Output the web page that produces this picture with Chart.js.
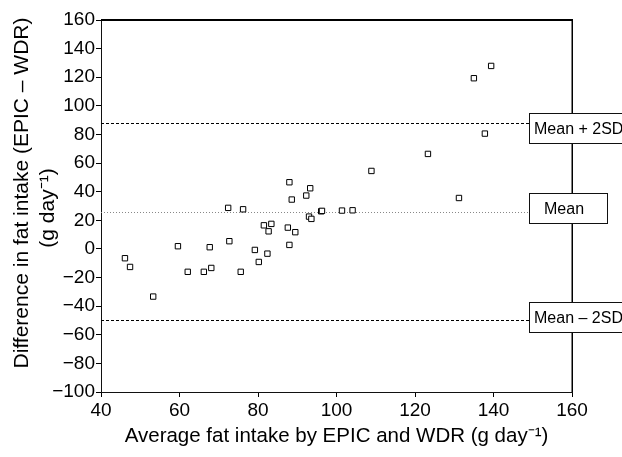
<!DOCTYPE html>
<html>
<head>
<meta charset="utf-8">
<script src="https://cdn.jsdelivr.net/npm/chart.js@4.4.1/dist/chart.umd.min.js"></script>
<style>
  html, body { margin: 0; padding: 0; background: #fff; }
</style>
</head>
<body>
<canvas id="chart" width="622" height="457"></canvas>
<script>
// average of the two methods (g/day) and their difference, EPIC - WDR
const avgIntake = [46.1, 47.4, 53.3, 59.6, 62.1, 66.2, 67.7, 68.1, 72.4, 72.7,
  75.6, 76.2, 79.2, 80.2, 81.5, 82.4, 82.7, 83.4, 87.6, 88.0,
  88.0, 88.6, 89.5, 92.3, 93.3, 93.0, 93.6, 96.1, 96.3, 101.4,
  104.1, 108.9, 123.3, 131.2, 135.0, 137.8, 139.4];
const diffIntake = [-6.5, -12.6, -33.3, 1.9, -16, -16, 1.2, -13.3, 28.7, 5.4,
  -16, 27.7, -0.7, -9.1, 16.5, -3.3, 12.3, 17.5, 14.9, 46.6,
  2.8, 34.5, 11.7, 37.3, 42.4, 22.6, 21, 26.3, 26.6, 26.8,
  27, 54.5, 66.4, 35.6, 119.3, 80.6, 127.9];

const xTicks = [40, 60, 80, 100, 120, 140, 160];
const yTicks = [-100, -80, -60, -40, -20, 0, 20, 40, 60, 80, 100, 120, 140, 160];

const refLabels = ["Mean + 2SD", "Mean", "Mean \u2013 2SD"];
const refValues = [88, 26, -50];

const xTitle = "Average fat intake by EPIC and WDR (g day\u207b\u00b9)";
const yTitle = ["Difference in fat intake (EPIC \u2013 WDR)", "(g day\u207b\u00b9)"];

// look of the reference lines and their label boxes
const refStyles = [
  { dash: [3, 2], color: "#000", boxTop: -10, boxW: 96, textDx: 5 },
  { dash: [1, 2], color: "#888", boxTop: -19, boxW: 78, textDx: 15 },
  { dash: [3, 2], color: "#000", boxTop: -18, boxW: 96, textDx: 5 }
];

const FONT = "'Liberation Sans', Arial, Helvetica, sans-serif";

const refPlugin = {
  id: "refPlugin",
  beforeDatasetsDraw(chart) {
    const { ctx, chartArea: a, scales: { y } } = chart;
    const boxLeft = a.right - 43;
    ctx.save();
    ctx.lineWidth = 1;
    refValues.forEach((v, i) => {
      const py = Math.round(y.getPixelForValue(v)) + 0.5;
      ctx.strokeStyle = refStyles[i].color;
      ctx.setLineDash(refStyles[i].dash);
      ctx.beginPath();
      ctx.moveTo(a.left, py);
      ctx.lineTo(boxLeft, py);
      ctx.stroke();
    });
    ctx.restore();
  },
  afterDraw(chart) {
    const { ctx, chartArea: a, scales: { y } } = chart;
    const boxLeft = a.right - 43;
    ctx.save();

    // top and right side of the frame
    ctx.fillStyle = "#000";
    ctx.fillRect(a.left, a.top - 1, a.right - a.left + 1, 2);
    ctx.fillRect(a.right - 0.5, a.top - 1, 1.5, a.bottom - a.top + 1);

    // label boxes sitting on the right edge of the frame
    ctx.lineWidth = 1;
    ctx.setLineDash([]);
    ctx.font = "16px " + FONT;
    ctx.textBaseline = "middle";
    ctx.textAlign = "left";
    refValues.forEach((v, i) => {
      const s = refStyles[i];
      const py = Math.round(y.getPixelForValue(v));
      const top = py + s.boxTop + 0.5;
      ctx.fillStyle = "#fff";
      ctx.fillRect(boxLeft + 0.5, top, s.boxW, 30);
      ctx.strokeStyle = "#111";
      ctx.strokeRect(boxLeft + 0.5, top, s.boxW, 30);
      ctx.fillStyle = "#000";
      ctx.fillText(refLabels[i], boxLeft + s.textDx, top + 16);
    });

    // y axis title, two lines
    ctx.font = "21px " + FONT;
    ctx.textAlign = "center";
    ctx.fillStyle = "#000";
    const mid = (a.top + a.bottom) / 2;
    ctx.translate(22, mid - 13);
    ctx.rotate(-Math.PI / 2);
    ctx.fillText(yTitle[0], 0, 0);
    ctx.fillText(yTitle[1], -15, 26);
    ctx.restore();
  }
};

new Chart(document.getElementById("chart"), {
  type: "scatter",
  data: {
    datasets: [{
      data: avgIntake.map((x, i) => ({ x: x, y: diffIntake[i] })),
      pointStyle: "rect",
      pointRadius: 3.8,
      borderWidth: 1,
      borderColor: "#000",
      backgroundColor: "#fff"
    }]
  },
  options: {
    responsive: false,
    animation: false,
    events: [],
    layout: { padding: { top: 20, right: 50, bottom: 0, left: 0 } },
    plugins: {
      legend: { display: false },
      tooltip: { enabled: false }
    },
    scales: {
      x: {
        type: "linear",
        min: 40,
        max: 160,
        afterBuildTicks: s => { s.ticks = xTicks.map(v => ({ value: v })); },
        afterFit: s => { s.height = 65; },
        grid: { drawOnChartArea: false, drawTicks: true, tickLength: 5, color: "#000" },
        border: { display: true, color: "#111", width: 1 },
        ticks: { color: "#000", padding: 2, maxRotation: 0, font: { family: FONT, size: 19 } },
        title: {
          display: true,
          text: xTitle,
          color: "#000",
          font: { family: FONT, size: 20.5 },
          padding: { top: 0, bottom: 8 }
        }
      },
      y: {
        type: "linear",
        min: -100,
        max: 160,
        afterBuildTicks: s => { s.ticks = yTicks.map(v => ({ value: v })); },
        afterFit: s => { s.width = 101; },
        grid: { drawOnChartArea: false, drawTicks: true, tickLength: 5, color: "#000" },
        border: { display: true, color: "#111", width: 1 },
        ticks: {
          color: "#000",
          padding: 1,
          font: { family: FONT, size: 19 },
          callback: v => (v < 0 ? "\u2212" + Math.abs(v) : String(v))
        }
      }
    }
  },
  plugins: [refPlugin]
});
</script>
</body>
</html>
